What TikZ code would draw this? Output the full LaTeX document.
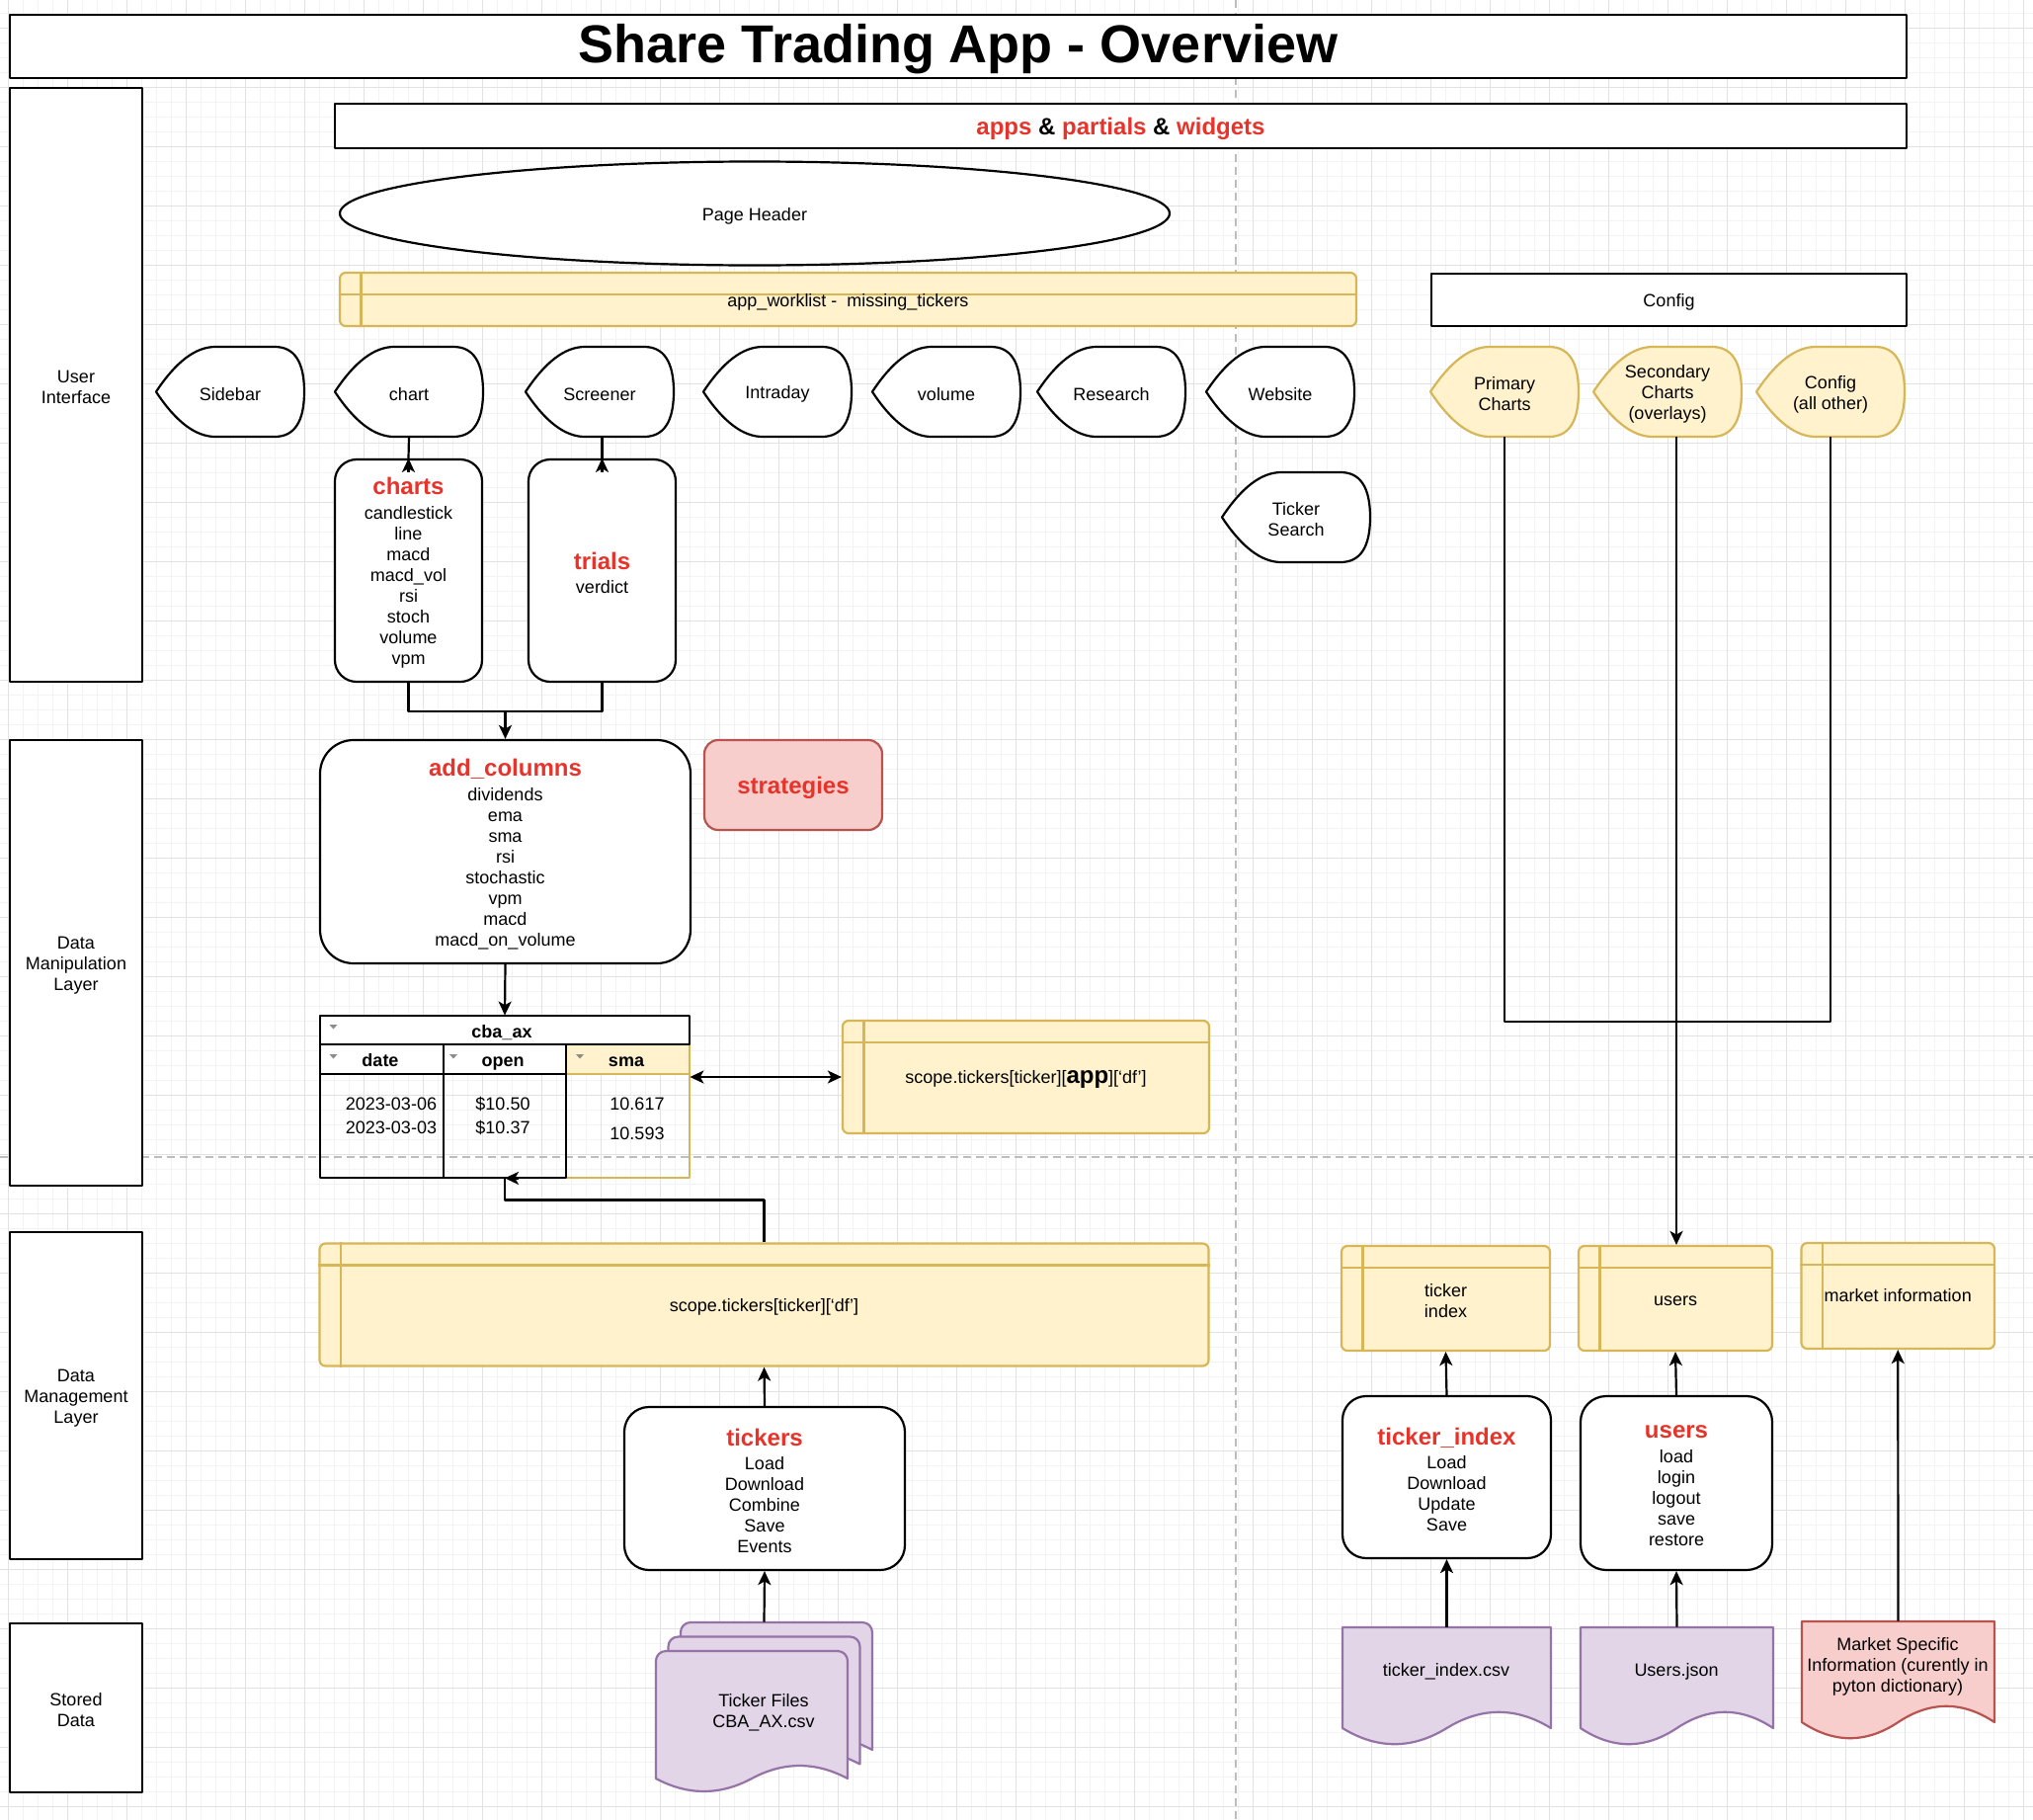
\documentclass[tikz,border=0pt]{standalone}
\usepackage{fontspec}
\setmainfont{Liberation Sans}
\usetikzlibrary{shapes.geometric, arrows.meta, calc, fit}

\definecolor{yfill}{HTML}{FFF2CC}
\definecolor{ystroke}{HTML}{D6B656}
\definecolor{rfill}{HTML}{F8CECC}
\definecolor{rstroke}{HTML}{B85450}
\definecolor{pfill}{HTML}{E1D5E7}
\definecolor{pstroke}{HTML}{9673A6}
\definecolor{hired}{HTML}{E8332A}
\definecolor{gridmaj}{HTML}{E2E2E2}
\definecolor{gridmin}{HTML}{F3F3F3}
\definecolor{guide}{HTML}{BDBDBD}

% red bold heading inside a box
\newcommand{\ttl}[1]{{\fontsize{12}{14}\selectfont\bfseries\color{hired}#1}}

% "display" shape (pointed left, rounded right), 150 x 91 units
\newcommand{\dispshape}[5]{%
  \begin{scope}[shift={(#2,#3)}]
    \draw[#4] (0,45.5) .. controls (20,15.2) and (40,0) .. (60,0) -- (120,0)
      .. controls (140,0) and (150,15.2) .. (150,45.5)
      .. controls (150,75.8) and (140,91) .. (120,91) -- (60,91)
      .. controls (40,91) and (20,75.8) .. (0,45.5) -- cycle;
    \node[dispnode] (#1) at (75,45.5) {};
    \node[lbl] (#1-t) at (#1.center) {#5};
  \end{scope}}

% document shape with wavy bottom: left, top, width, edge level, wave depth, style
\newcommand{\docshape}[6]{%
  \begin{scope}[shift={(#1,#2)}]
    \draw[#6] (0,0) -- (#3,0) -- (#3,#4)
      .. controls ({#3*5/6},{#4-#5*2/3}) and ({#3*2/3},{#4-#5*2/3}) .. ({#3/2},#4)
      .. controls ({#3/3},{#4+#5*2/3}) and ({#3/6},{#4+#5*2/3}) .. (0,#4) -- cycle;
  \end{scope}}

% one sheet of the stacked document, rounded top corners
\newcommand{\sheet}[2]{%
  \begin{scope}[shift={(#1,#2)}]
    \draw[docp] (0,129) -- (0,10) .. controls (0,4.5) and (4.5,0) .. (10,0) -- (184,0)
      .. controls (189.5,0) and (194,4.5) .. (194,10) -- (194,129)
      .. controls (161.7,111.7) and (129.3,111.7) .. (97,129)
      .. controls (64.7,146.3) and (32.3,146.3) .. (0,129) -- cycle;
  \end{scope}}

\begin{document}
\begin{tikzpicture}[x=0.5pt, y=-0.5pt, line join=round,
  font=\fontsize{9}{10.5}\selectfont,
  conn/.style={draw=black, line width=1.1pt},
  arr/.style={conn, -{Stealth[length=7pt,width=6.5pt,inset=1.8pt]}},
  dbl/.style={conn, {Stealth[length=7pt,width=6.5pt,inset=1.8pt]}-{Stealth[length=7pt,width=6.5pt,inset=1.8pt]}},
  plainbox/.style={draw=black, fill=white, line width=1pt, inner sep=0},
  roundbox/.style={plainbox, line width=1.1pt, rounded corners=#1},
  store/.style={draw=ystroke, fill=yfill, line width=1.1pt, rounded corners=3pt, inner sep=0,
    append after command={
      ([yshift=-11.5pt]\tikzlastnode.north west) edge[draw=ystroke, line width=1.1pt, sharp corners]
      ([yshift=-11.5pt]\tikzlastnode.north east)
      ([xshift=11.25pt]\tikzlastnode.north west) edge[draw=ystroke, line width=1.1pt, sharp corners]
      ([xshift=11.25pt]\tikzlastnode.south west)}},
  dispw/.style={draw=black, fill=white, line width=1.1pt},
  dispy/.style={draw=ystroke, fill=yfill, line width=1.1pt},
  dispnode/.style={minimum width=75pt, minimum height=45.5pt, inner sep=0},
  docp/.style={draw=pstroke, fill=pfill, line width=1.1pt},
  docr/.style={draw=rstroke, fill=rfill, line width=1.1pt},
  lbl/.style={inner sep=0, align=center, yshift=-1.2pt},
  pt/.style={inner sep=0, align=center},
  hidden/.style={inner sep=0, draw=none},
  tbl/.style={draw=black, line width=1.1pt},
  tbly/.style={draw=ystroke, line width=1.1pt},
  bold9/.style={inner sep=0, anchor=base, font=\fontsize{9}{10.5}\selectfont\bfseries},
  cell/.style={inner sep=0, anchor=base},
  sortmark/.style={fill=black!45},
  gridminor/.style={draw=gridmin, line width=0.5pt},
  gridmajor/.style={draw=gridmaj, line width=0.6pt},
  guide/.style={draw=guide, line width=0.6pt, dash pattern=on 4pt off 2.5pt}]

\useasboundingbox (0,0) rectangle (2058,1842);
\fill[white] (0,0) rectangle (2058,1842);

% background grid
\draw[gridminor] \foreach \i in {0,...,137} {({8.3+15*\i},0) -- ({8.3+15*\i},1842)};
\draw[gridminor] \foreach \j in {0,...,122} {(0,{13.3+15*\j}) -- (2058,{13.3+15*\j})};
\draw[gridmajor] \foreach \i in {0,...,34} {({8.3+60*\i},0) -- ({8.3+60*\i},1842)};
\draw[gridmajor] \foreach \j in {0,...,30} {(0,{28.3+60*\j}) -- (2058,{28.3+60*\j})};

% dashed guides
\draw[guide] (1251,0) -- (1251,1842);
\draw[guide] (0,1171) -- (2058,1171);

% header boxes
\node[plainbox, fit={(10,15)(1930,79)}] (title) {};
\node[lbl] (title-t) at (title.center) {\fontsize{27}{32}\selectfont\bfseries Share Trading App - Overview};
\node[plainbox, fit={(339,105)(1930,150)}] (apps) {};
\node[lbl] (apps-t) at (apps.center)
  {\fontsize{12}{14}\selectfont\bfseries\textcolor{hired}{apps} \& \textcolor{hired}{partials} \& \textcolor{hired}{widgets}};
\node[ellipse, draw=black, fill=white, line width=1.1pt, inner sep=0,
  minimum width=420pt, minimum height=52.5pt] (pagehdr) at (764,216) {};
\node[lbl] (pagehdr-t) at (pagehdr.center) {Page Header};
\node[store, fit={(344,276)(1373,330)}] (worklist) {};
\node[lbl] (worklist-t) at (worklist.center) {app\_worklist -\ \ missing\_tickers};
\node[plainbox, fit={(1449,277)(1930,330)}] (config) {};
\node[lbl] (config-t) at (config.center) {Config};

% lane labels
\node[plainbox, fit={(10,89)(144,690)}] (laneui) {};
\node[lbl] (laneui-t) at (laneui.center) {User\\Interface};
\node[plainbox, fit={(10,749)(144,1200)}] (lanemanip) {};
\node[lbl] (lanemanip-t) at (lanemanip.center) {Data\\Manipulation\\Layer};
\node[plainbox, fit={(10,1247)(144,1578)}] (lanemgmt) {};
\node[lbl] (lanemgmt-t) at (lanemgmt.center) {Data\\Management\\Layer};
\node[plainbox, fit={(10,1643)(144,1814)}] (lanestore) {};
\node[lbl] (lanestore-t) at (lanestore.center) {Stored\\Data};

% app row
\dispshape{sidebar}{158}{351}{dispw}{Sidebar}
\dispshape{chart}{339}{351}{dispw}{chart}
\dispshape{screener}{532}{351}{dispw}{Screener}
\dispshape{intraday}{712}{351}{dispw}{Intraday}
\dispshape{volume}{883}{351}{dispw}{volume}
\dispshape{research}{1050}{351}{dispw}{Research}
\dispshape{website}{1221}{351}{dispw}{Website}
\dispshape{tsearch}{1237}{478}{dispw}{Ticker\\Search}
\dispshape{primary}{1448}{351}{dispy}{Primary\\Charts}
\dispshape{secondary}{1613}{351}{dispy}{Secondary\\Charts\\(overlays)}
\dispshape{cfgall}{1778}{351}{dispy}{Config\\(all other)}

% partials
\node[roundbox=11pt, fit={(339,465)(488,690)}] (charts) {};
\node[lbl] (charts-t) at (charts.center)
  {\ttl{charts}\\[1.75pt] candlestick\\ line\\ macd\\ macd\_vol\\ rsi\\ stoch\\ volume\\ vpm};
\node[roundbox=11pt, fit={(535,465)(684,690)}] (trials) {};
\node[lbl] (trials-t) at (trials.center) {\ttl{trials}\\[1.75pt] verdict};

% data manipulation
\node[roundbox=17pt, fit={(324,749)(699,975)}] (addcol) {};
\node[lbl] (addcol-t) at (addcol.center)
  {\ttl{add\_columns}\\[1.75pt] dividends\\ ema\\ sma\\ rsi\\ stochastic\\ vpm\\ macd\\ macd\_on\_volume};
\node[roundbox=7pt, draw=rstroke, fill=rfill, fit={(713,749)(893,840)}] (strategies) {};
\node[lbl] (strategies-t) at (strategies.center) {\ttl{strategies}};

% cba_ax table
\node[hidden, fit={(324,1028)(698,1192)}] (cbaax) {};
\fill[white] (324,1028) rectangle (698,1087);
\fill[yfill] (573,1057) rectangle (698,1087);
\draw[tbly] (573,1057) rectangle (698,1192);
\draw[tbly] (573,1087) -- (698,1087);
\draw[tbl] (324,1028) rectangle (698,1057);
\draw[tbl] (324,1057) rectangle (449,1192);
\draw[tbl] (449,1057) rectangle (573,1192);
\draw[tbl] (324,1087) -- (573,1087);
\fill[sortmark] (333.5,1037) -- (341.5,1037) -- (337.5,1041.5) -- cycle;
\fill[sortmark] (333.5,1067) -- (341.5,1067) -- (337.5,1071.5) -- cycle;
\fill[sortmark] (455,1067) -- (463,1067) -- (459,1071.5) -- cycle;
\fill[sortmark] (583,1067) -- (591,1067) -- (587,1071.5) -- cycle;
\node[bold9] (tcap) at (508,1050) {cba\_ax};
\node[bold9] (hdate) at (385,1079) {date};
\node[bold9] (hopen) at (509,1079) {open};
\node[bold9] (hsma) at (634,1079) {sma};
\node[cell] (d1) at (396,1123) {2023-03-06};
\node[cell] (d2) at (396,1147) {2023-03-03};
\node[cell] (o1) at (509,1123) {\$10.50};
\node[cell] (o2) at (509,1147) {\$10.37};
\node[cell] (s1) at (645,1123) {10.617};
\node[cell] (s2) at (645,1153) {10.593};

\node[store, fit={(853,1033)(1224,1147)}] (scopeapp) {};
\node[lbl] (scopeapp-t) at (scopeapp.center)
  {scope.tickers[ticker][{\fontsize{12}{14}\selectfont\bfseries app}][‘df’]};

% data management
\node[store, fit={(323.5,1258.5)(1223.5,1382.5)}] (scopedf) {};
\node[lbl] (scopedf-t) at (scopedf.center) {scope.tickers[ticker][‘df’]};
\node[roundbox=12.5pt, fit={(632,1424)(916,1589)}] (tickers) {};
\node[lbl] (tickers-t) at (tickers.center)
  {\ttl{tickers}\\[1.75pt] Load\\ Download\\ Combine\\ Save\\ Events};
\node[store, fit={(1358,1261)(1569,1367)}] (tistore) {};
\node[lbl] (tistore-t) at (tistore.center) {ticker\\index};
\node[store, fit={(1598,1261)(1794,1367)}] (ustore) {};
\node[lbl] (ustore-t) at (ustore.center) {users};
\node[store, fit={(1823.5,1258)(2019,1365)}] (mstore) {};
\node[pt] (mstore-t) at (mstore.center) {market information};
\node[roundbox=12pt, fit={(1359,1413)(1570,1577)}] (tibox) {};
\node[lbl] (tibox-t) at (tibox.center)
  {\ttl{ticker\_index}\\[1.75pt] Load\\ Download\\ Update\\ Save};
\node[roundbox=13pt, fit={(1600,1413)(1794,1589)}] (ubox) {};
\node[lbl] (ubox-t) at (ubox.center)
  {\ttl{users}\\[1.75pt] load\\ login\\ logout\\ save\\ restore};

% stored data
\sheet{689}{1642}
\sheet{676.5}{1656.5}
\sheet{664}{1671}
\node[hidden, fit={(664,1642)(883,1811)}] (tfiles) {};
\node[lbl] (tfiles-t) at (773,1731) {Ticker Files\\CBA\_AX.csv};

\docshape{1359}{1647}{211}{102}{32.4}{docp}
\node[hidden, fit={(1359,1647)(1570,1767)}] (ticsv) {};
\node[lbl] (ticsv-t) at (1464,1689) {ticker\_index.csv};

\docshape{1600}{1647}{195}{102}{32.4}{docp}
\node[hidden, fit={(1600,1647)(1795,1767)}] (ujson) {};
\node[lbl] (ujson-t) at (1697,1689) {Users.json};

\docshape{1824}{1641}{195}{102}{32.4}{docr}
\node[hidden, fit={(1824,1641)(2019,1761)}] (mspec) {};
\node[lbl] (mspec-t) at (1921,1684) {Market Specific\\Information (curently in\\pyton dictionary)};

% connectors: user interface
\draw[conn] (chart.south) -- (charts.north);
\draw[arr] ($(charts.north)+(0,14)$) -- (charts.north);
\draw[conn] (screener.south -| trials.north) -- (trials.north);
\draw[arr] ($(trials.north)+(0,14)$) -- (trials.north);
\coordinate (merge) at (511.5,720);
\draw[conn] (charts.south) |- (merge);
\draw[conn] (trials.south) |- (merge);
\draw[arr] (merge) -- (addcol.north);
\draw[arr] (addcol.south) -- (cbaax.north);
\draw[dbl] (scopeapp.west -| cbaax.east) -- (scopeapp.west);
\draw[conn] (scopedf.north) |- ($(cbaax.south)+(0,22)$) -- (cbaax.south);
\draw[arr] ($(cbaax.south)+(14,0)$) -- (cbaax.south);

% connectors: data management and storage
\draw[arr] (tickers.north) -- (scopedf.south);
\draw[arr] (tfiles.north) -- (tickers.south);
\draw[arr] (ticsv.north) -- (tibox.south);
\draw[arr] (tibox.north) -- (tistore.south);
\draw[arr] (ujson.north) -- (ubox.south);
\draw[arr] (ubox.north) -- (ustore.south);
\draw[arr] (mspec.north) -- (mstore.south);

% connectors: config
\coordinate (cfgjoin) at (1697,1034);
\draw[conn] (primary.south) |- (cfgjoin);
\draw[conn] (cfgall.south) |- (cfgjoin);
\draw[arr] (cfgjoin |- secondary.south) -- (cfgjoin |- ustore.north);

\end{tikzpicture}
\end{document}
